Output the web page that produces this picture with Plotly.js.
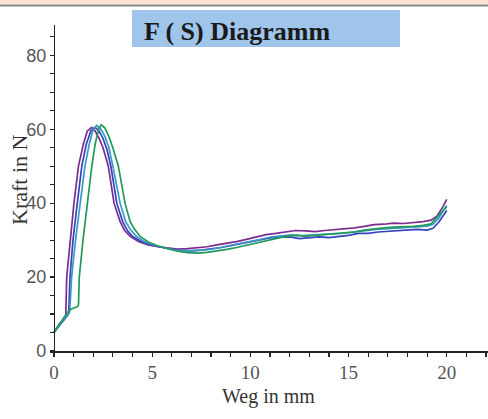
<!DOCTYPE html>
<html>
<head>
<meta charset="utf-8">
<script src="https://cdn.plot.ly/plotly-3.0.1.min.js"></script>
<style>html,body{margin:0;padding:0;background:#fff;}#chart{width:488px;height:419px;}</style>
</head>
<body>
<div id="chart"></div>
<script>
// ---- data ----
const chartTitle = "F ( S) Diagramm";
const xTitle = "Weg in mm";
const yTitle = "Kraft in N";
const seriesNames = ["Probe 1", "Probe 2", "Probe 3", "Probe 4"];
const seriesColors = ["#7b2c8e", "#3442c0", "#3a9ac4", "#22995a"];

const x1 = [0, 0.3, 0.5, 0.6, 0.65, 0.82, 1.02, 1.25, 1.5, 1.7, 1.92, 2.1, 2.3, 2.5, 2.77, 3.06, 3.37, 3.6, 3.88, 4.3, 4.8, 5.3, 5.8, 6.3, 6.8, 7.3, 7.8, 8.3, 8.8, 9.3, 9.8, 10.3, 10.8, 11.3, 11.8, 12.3, 12.8, 13.3, 13.8, 14.3, 14.8, 15.3, 15.8, 16.3, 16.8, 17.3, 17.8, 18.3, 18.8, 19.2, 19.5, 19.8, 20];
const y1 = [5, 7.5, 8.5, 9, 20, 30, 40, 50, 56, 59.5, 60.5, 59.5, 57.5, 55, 50, 40, 35, 32.6, 31, 29.6, 28.7, 28.2, 27.8, 27.6, 27.7, 27.9, 28.2, 28.7, 29.1, 29.6, 30.2, 30.9, 31.5, 31.8, 32.2, 32.6, 32.5, 32.3, 32.6, 32.8, 33, 33.3, 33.7, 34.2, 34.3, 34.6, 34.5, 34.7, 35, 35.4, 36.5, 39, 41];

const x2 = [0, 0.3, 0.6, 0.75, 0.82, 0.97, 1.19, 1.42, 1.65, 1.88, 2.09, 2.3, 2.5, 2.7, 2.9, 3.2, 3.5, 3.75, 4.0, 4.5, 5.0, 5.5, 6.0, 6.5, 7.0, 7.5, 8.0, 8.5, 9.0, 9.5, 10.0, 10.5, 11.0, 11.5, 12.0, 12.5, 13.0, 13.5, 14.0, 14.5, 15.0, 15.5, 16.0, 16.5, 17.0, 17.5, 18.0, 18.5, 19.0, 19.3, 19.6, 19.8, 20];
const y2 = [5, 7, 8.8, 10, 20, 30, 40, 50, 56, 59.5, 60.5, 59.5, 57.5, 54.5, 50, 40, 35, 32.5, 31, 29.5, 28.6, 28, 27.5, 27.2, 27.1, 27.3, 27.6, 28, 28.5, 29, 29.5, 30, 30.6, 30.8, 30.9, 30.4, 30.6, 30.9, 30.7, 30.9, 31.3, 31.8, 31.8, 32.2, 32.4, 32.7, 32.9, 32.9, 32.7, 33.2, 34.9, 36.5, 38];

const x3 = [0, 0.3, 0.6, 0.8, 0.9, 1.1, 1.33, 1.58, 1.8, 2.0, 2.18, 2.4, 2.6, 2.8, 3.0, 3.37, 3.65, 3.9, 4.2, 4.6, 5.1, 5.6, 6.1, 6.6, 7.1, 7.6, 8.1, 8.6, 9.1, 9.6, 10.1, 10.6, 11.1, 11.6, 12.1, 12.6, 13.1, 13.6, 14.1, 14.6, 15.1, 15.6, 16.1, 16.6, 17.1, 17.6, 18.1, 18.6, 19.0, 19.3, 19.6, 19.8, 20];
const y3 = [5, 7.2, 9.2, 10.5, 20, 30, 40, 50, 56, 60, 61, 60, 58, 55, 50, 40, 35, 32.8, 31, 29.6, 28.6, 27.9, 27.4, 27.1, 27.1, 27.3, 27.6, 28.1, 28.6, 29.1, 29.7, 30.3, 30.9, 31.2, 31.4, 31.2, 31.3, 31.6, 31.5, 31.8, 32.1, 32.5, 32.7, 33.0, 33.2, 33.4, 33.5, 33.6, 33.8, 34.3, 36.0, 37.8, 39.4];

const x4 = [0, 0.3, 0.5, 0.8, 1.0, 1.2, 1.25, 1.29, 1.48, 1.7, 1.93, 2.1, 2.28, 2.4, 2.6, 2.8, 3.0, 3.28, 3.62, 3.88, 4.1, 4.39, 4.8, 5.3, 5.8, 6.3, 6.8, 7.3, 7.8, 8.3, 8.8, 9.3, 9.8, 10.3, 10.8, 11.3, 11.8, 12.3, 12.8, 13.3, 13.8, 14.3, 14.8, 15.3, 15.8, 16.3, 16.8, 17.3, 17.8, 18.3, 18.8, 19.2, 19.5, 19.8, 20];
const y4 = [5, 7.5, 9, 11.2, 11.5, 12, 12.5, 20, 30, 40, 50, 56, 60, 61.2, 60.3, 58, 55, 50, 40, 35, 33, 31, 29.5, 28.4, 27.6, 27, 26.6, 26.5, 26.7, 27, 27.5, 28, 28.6, 29.2, 29.9, 30.6, 31, 31.3, 31.1, 31.3, 31.5, 31.6, 31.8, 32.2, 32.7, 33.1, 33.3, 33.5, 33.5, 33.7, 34, 34.4, 36.2, 37.8, 39];

const xs = [x1, x2, x3, x4];
const ys = [y1, y2, y3, y4];

// ---- figure ----
const traces = xs.map((xv, i) => ({
  x: xv, y: ys[i], type: "scatter", mode: "lines", name: seriesNames[i],
  line: {color: seriesColors[i], width: 1.7}, xaxis: "x", yaxis: "y"
}));

const xr = [-0.2, 22.1];
const yr = [0, 88.2];
const ypos = 0.2 / (xr[1] - xr[0]);
const axisCol = "#222";
const PL = 50, PW = 438, PB = 351, PH = 326;
const px = v => (v - PL) / PW;
const py = v => (PB - v) / PH;

const layout = {
  width: 488, height: 419,
  margin: {l: 50, r: 0, t: 25, b: 68, pad: 0},
  paper_bgcolor: "#ffffff", plot_bgcolor: "#ffffff",
  showlegend: false,
  xaxis: {
    range: xr, showgrid: false, zeroline: false, showline: true, linecolor: axisCol, linewidth: 1.5,
    tick0: 0, dtick: 5, ticks: "outside", ticklen: 4, tickcolor: axisCol, tickwidth: 1.2,
    minor: {dtick: 1, tick0: 0, ticks: "outside", ticklen: 4, tickcolor: axisCol, tickwidth: 1.2, showgrid: false},
    tickfont: {family: "Liberation Serif, serif", size: 19, color: "#555"}
  },
  xaxis2: {
    range: xr, overlaying: "x", anchor: "y", side: "bottom", showgrid: false, zeroline: false, showline: false,
    tick0: 0, dtick: 5, ticks: "inside", ticklen: 4, tickcolor: axisCol, tickwidth: 1.2, showticklabels: false,
    minor: {dtick: 1, tick0: 0, ticks: "inside", ticklen: 4, tickcolor: axisCol, tickwidth: 1.2, showgrid: false}
  },
  yaxis: {
    range: yr, anchor: "free", position: ypos, showgrid: false, zeroline: false, showline: true, linecolor: axisCol, linewidth: 1.5,
    tick0: 0, dtick: 20, ticks: "outside", ticklen: 4, tickcolor: axisCol, tickwidth: 1.2,
    minor: {dtick: 5, tick0: 0, ticks: "outside", ticklen: 4, tickcolor: axisCol, tickwidth: 1.2, showgrid: false},
    tickfont: {family: "Liberation Sans, Arial, sans-serif", size: 18, color: "#555"}
  },
  yaxis2: {
    range: yr, overlaying: "y", anchor: "free", position: ypos, side: "left", showgrid: false, zeroline: false, showline: false,
    tick0: 0, dtick: 20, ticks: "inside", ticklen: 4, tickcolor: axisCol, tickwidth: 1.2, showticklabels: false,
    minor: {dtick: 5, tick0: 0, ticks: "inside", ticklen: 4, tickcolor: axisCol, tickwidth: 1.2, showgrid: false}
  },
  shapes: [
    {type: "rect", xref: "paper", yref: "paper", x0: -0.2, x1: 1.1, y0: 1.063, y1: 1.2, fillcolor: "#fde2d0", line: {width: 0}, layer: "above"},
    {type: "line", xref: "paper", yref: "paper", x0: -0.2, x1: 1.1, y0: 1.0598, y1: 1.0598, line: {color: "#8a8a8a", width: 2}, layer: "above"},
    {type: "rect", xref: "paper", yref: "paper", x0: px(132), x1: px(400), y0: py(47), y1: py(10), fillcolor: "#9fc6ea", line: {width: 0}, layer: "above"}
  ],
  annotations: [
    {text: "<b>" + chartTitle + "</b>", xref: "paper", yref: "paper", x: px(142), y: py(31),
     xanchor: "left", yanchor: "middle", showarrow: false,
     font: {family: "Liberation Serif, Times New Roman, serif", size: 26, color: "#1a1a1a"}},
    {text: xTitle, xref: "paper", yref: "paper", x: px(268), y: py(396),
     xanchor: "center", yanchor: "middle", showarrow: false,
     font: {family: "Liberation Serif, Times New Roman, serif", size: 20, color: "#333"}},
    {text: yTitle, xref: "paper", yref: "paper", x: px(19), y: py(180),
     xanchor: "center", yanchor: "middle", showarrow: false, textangle: -90,
     font: {family: "Liberation Serif, Times New Roman, serif", size: 22, color: "#333"}}
  ]
};

Plotly.newPlot("chart", traces, layout, {displayModeBar: false, staticPlot: true});
</script>
</body>
</html>
